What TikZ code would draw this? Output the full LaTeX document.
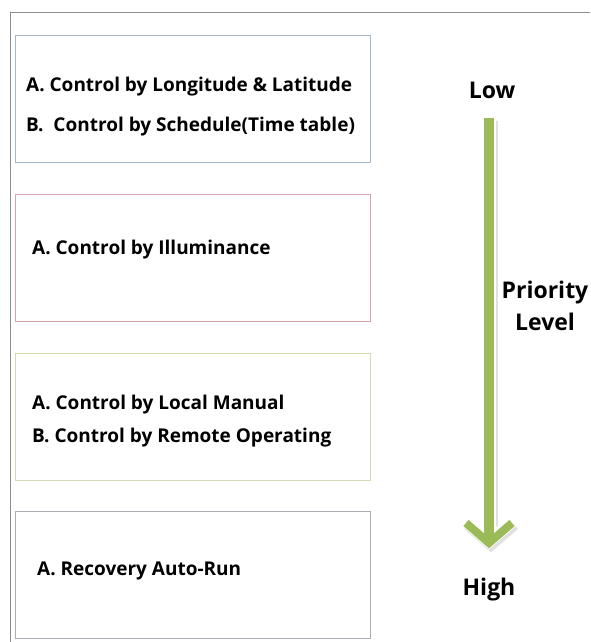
\documentclass[tikz,border=0pt]{standalone}
\usepackage{fontspec}
\setmainfont{Open Sans}
\usetikzlibrary{positioning,arrows.meta,calc}
\definecolor{frameg}{HTML}{8C8C8C}
\definecolor{boxblue}{HTML}{A3BBC8}
\definecolor{boxpink}{HTML}{D4A3AC}
\definecolor{boxolive}{HTML}{D3DAAD}
\definecolor{boxgray}{HTML}{ABABB3}
\definecolor{arrowgreen}{HTML}{9BBB59}

\begin{document}
\begin{tikzpicture}[x=1pt,y=1pt,
  node distance=31pt,
  box/.style={draw,minimum width=355pt,minimum height=127pt,inner sep=0pt,line width=0.8pt},
  item/.style={anchor=west,font=\bfseries\fontsize{19}{22}\selectfont,align=left,inner sep=0pt},
  lvl/.style={font=\bfseries\fontsize{23}{32}\selectfont,inner sep=0pt,align=center},
  ar/.style={-{Straight Barb[length=20pt,width=46pt,line width=8pt]},line width=10pt,arrowgreen},
  arshadow/.style={-{Straight Barb[length=20pt,width=46pt,line width=12pt]},line width=14pt,black!12}]
\useasboundingbox (0,0) rectangle (590,-642);
\draw[frameg,line width=1pt] (10,-642) |- (590,-13);
% priority boxes
\node[box,draw=boxblue,anchor=north west] (b1) at (15,-35) {};
\node[box,draw=boxpink,below=of b1] (b2) {};
\node[box,draw=boxolive,below=of b2] (b3) {};
\node[box,draw=boxgray,below=of b3] (b4) {};
\node[item] (t1) at (26,-107) {A. Control by Longitude \& Latitude\\[18pt]B.\ \ Control by Schedule(Time table)};
\node[item] (t2) at (32,-250) {A. Control by Illuminance};
\node[item] (t3) at (32,-421) {A. Control by Local Manual\\[11pt]B. Control by Remote Operating};
\node[item] (t4) at (37,-571) {A. Recovery Auto-Run};
% priority arrow
\node[lvl] (low) at (492,-90) {Low};
\node[lvl] (high) at (489,-590) {High};
\node[lvl] (prio) at (545,-306) {Priority\\Level};
\draw[arshadow,shorten <=19pt,shorten >=29pt,transform canvas={xshift=2pt,yshift=-3pt}] (low.south -| high.north) -- (high.north);
\draw[arshadow,white,shorten <=19pt,shorten >=29pt] (low.south -| high.north) -- (high.north);
\draw[ar,shorten <=19pt,shorten >=30pt] (low.south -| high.north) -- (high.north);
\end{tikzpicture}
\end{document}
